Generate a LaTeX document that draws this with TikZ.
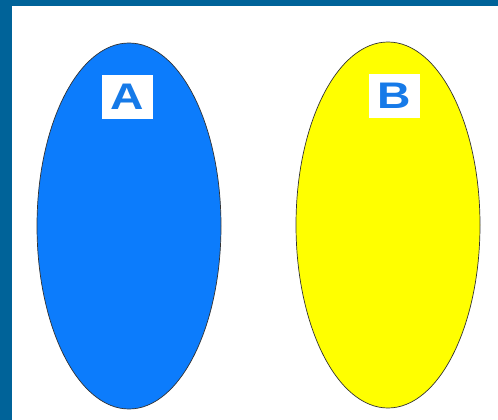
\documentclass[tikz,border=0pt]{standalone}
\usepackage{fontspec}
\setmainfont{Liberation Sans}
\definecolor{framblue}{RGB}{0, 99, 153}
\definecolor{setblue}{RGB}{12, 124, 252}
\definecolor{letterblue}{RGB}{22, 122, 232}
\definecolor{setyellow}{RGB}{255, 255, 0}
\usetikzlibrary{shapes.geometric, positioning}
\tikzset{
	setshape/.style={ellipse, draw=black!80, line width=0.7pt, minimum width=184pt, minimum height=366pt, inner sep=0pt},
	setlabel/.style={rectangle, fill=white, inner sep=0pt, minimum width=51pt, minimum height=44pt, text=letterblue, font=\fontsize{37}{37}\selectfont\bfseries},
}
\begin{document}
\begin{tikzpicture}[x=1pt, y=-1pt]
		\useasboundingbox (0,0) rectangle (498,420);
		\fill[framblue] (0,0) rectangle (498,420);
		\fill[white] (12,6) rectangle (498,420);
		\node[setshape, fill=setblue] (setA) at (129,226) {};
		\node[setshape, fill=setyellow] (setB) at (388,225) {};
		\node[setlabel] (labA) at (127,97) {\scalebox{1.25}[1]{A}};
		\node[setlabel] (labB) at (394,96) {\scalebox{1.25}[1]{B}};
	\end{tikzpicture}
\end{document}
